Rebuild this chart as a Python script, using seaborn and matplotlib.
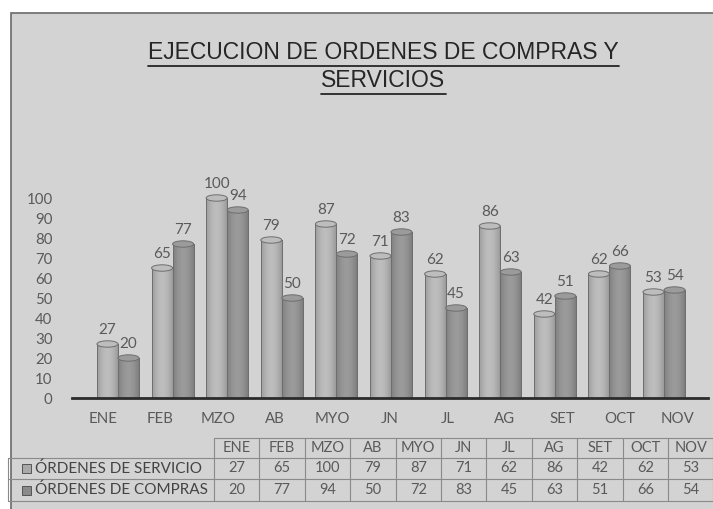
import numpy as np
import pandas as pd
import matplotlib
matplotlib.use("Agg")
import matplotlib.pyplot as plt
from matplotlib.patches import Rectangle, Ellipse
from matplotlib.lines import Line2D
import seaborn as sns

# ---- data -------------------------------------------------------------
months = ["ENE", "FEB", "MZO", "AB", "MYO", "JN", "JL", "AG", "SET", "OCT", "NOV"]
servicio = [27, 65, 100, 79, 87, 71, 62, 86, 42, 62, 53]
compras = [20, 77, 94, 50, 72, 83, 45, 63, 51, 66, 54]
series_names = ["ÓRDENES DE SERVICIO", "ÓRDENES DE COMPRAS"]
y_ticks = [0, 10, 20, 30, 40, 50, 60, 70, 80, 90, 100]
title_lines = ["EJECUCION DE ORDENES DE COMPRAS Y", "SERVICIOS"]

df = pd.DataFrame({
    "mes": months * 2,
    "valor": servicio + compras,
    "serie": [series_names[0]] * len(months) + [series_names[1]] * len(months),
})

# ---- style ------------------------------------------------------------
sns.set_theme(style="white")
plt.rcParams["font.family"] = ["Lato", "DejaVu Sans"]

W, H = 713, 509
BG = "#d3d3d3"
TXT = "#5a5a5a"
colors = ["#a9a9a9", "#8a8a8a"]

fig = plt.figure(figsize=(W / 100, H / 100), dpi=100)
fig.patch.set_facecolor("white")

def px(x, y):
    """pixel (from top-left) -> figure fraction"""
    return x / W, 1 - y / H

# framed panel
x0, y0 = px(11, 13)
fig.patches.append(Rectangle((x0, -0.1), 1.2, y0 + 0.1, transform=fig.transFigure,
                             facecolor=BG, edgecolor="#6a6a6a", lw=1.2, zorder=-5))

# ---- bar axes ---------------------------------------------------------
ax_l, ax_r = 72, 708
y_zero, y_top = 398, 178  # pixel rows for 0 and 110
ax = fig.add_axes([ax_l / W, 1 - y_zero / H, (ax_r - ax_l) / W, (y_zero - y_top) / H])
ax.set_facecolor("none")
ax.set_zorder(2)

sns.barplot(data=df, x="mes", y="valor", hue="serie", order=months,
            hue_order=series_names, palette=colors, width=0.77,
            saturation=1, edgecolor="#6e6e6e", linewidth=0.7,
            legend=False, ax=ax)

XLIM = (-0.842, 10.806)
YLIM = (0, 110)

# cylinder shading and rounded top on every bar
grad = np.linspace(0, 1, 64)
shade = np.sin(np.pi * (0.12 + 0.8 * grad))
cap_h = 1.6
for i, patch in enumerate(ax.patches[:2 * len(months)]):
    base = np.array(matplotlib.colors.to_rgb(colors[i // len(months)]))
    img = np.clip(base[None, :] * (0.8 + 0.32 * shade[:, None]), 0, 1)[None, :, :]
    bx, by = patch.get_x(), patch.get_y()
    bw, bh = patch.get_width(), patch.get_height()
    z = patch.get_zorder()
    im = ax.imshow(img, extent=[bx, bx + bw, by, by + bh], aspect="auto",
                   zorder=z + 0.1, interpolation="bilinear")
    im.set_clip_path(patch)
    ax.add_patch(Rectangle((bx, by), bw, bh, fill=False, edgecolor="#6e6e6e",
                           lw=0.7, zorder=z + 0.2))
    ax.add_patch(Ellipse((bx + bw / 2, by + bh), bw, cap_h * 2,
                         facecolor=np.clip(base * 1.12, 0, 1), edgecolor="#6e6e6e",
                         lw=0.7, zorder=z + 0.3))

ax.set_ylim(*YLIM)
ax.set_xlim(*XLIM)

# value labels
for cont in ax.containers:
    ax.bar_label(cont, labels=[str(int(round(v))) for v in cont.datavalues],
                 padding=5, color=TXT, fontsize=11, clip_on=False)

ax.set_yticks(y_ticks)
ax.set_yticklabels([str(t) for t in y_ticks])
ax.tick_params(axis="y", length=0, pad=14, labelsize=10.8, labelcolor=TXT)
ax.set_xticks([])
ax.set_xlabel("")
ax.set_ylabel("")
for s in ["top", "right", "left"]:
    ax.spines[s].set_visible(False)
ax.spines["bottom"].set_color("#2b2b2b")
ax.spines["bottom"].set_linewidth(2.0)

# category labels sit on their own (perspective-shifted) scale
ax2 = ax.twiny()
ax2.set_xlim(-0.540, 10.540)
ax2.set_xticks(range(len(months)))
ax2.set_xticklabels(months)
ax2.xaxis.set_ticks_position("bottom")
ax2.xaxis.set_label_position("bottom")
ax2.tick_params(axis="x", length=0, pad=10, labelsize=10.8, labelcolor=TXT)
for s in ax2.spines.values():
    s.set_visible(False)

# ---- title with underline ---------------------------------------------
t_objs = []
for line, yc in zip(title_lines, [52.5, 80.5]):
    tx, ty = px(383.5, yc)
    t_objs.append(fig.text(tx, ty, line, ha="center", va="center",
                           fontsize=16.5, color="#262626",
                           family="Liberation Sans"))

# ---- data table -------------------------------------------------------
col_left, col_w = 214, 45.4
row_edges = [438, 458, 479, 501]
grid_c = "#8a8a8a"
fs_tab = 10.5
for k in range(len(months) + 1):
    xk = col_left + k * col_w
    fig.add_artist(Line2D([xk / W] * 2, [1 - row_edges[0] / H, 1 - row_edges[3] / H],
                          transform=fig.transFigure, color=grid_c, lw=0.8))
for j, ye in enumerate(row_edges):
    xs = col_left if j == 0 else 8
    fig.add_artist(Line2D([xs / W, (col_left + len(months) * col_w) / W], [1 - ye / H] * 2,
                          transform=fig.transFigure, color=grid_c, lw=0.8))
fig.add_artist(Line2D([8 / W] * 2, [1 - row_edges[1] / H, 1 - row_edges[3] / H],
                      transform=fig.transFigure, color=grid_c, lw=0.8))

for k, m in enumerate(months):
    cx = col_left + (k + 0.5) * col_w
    fig.text(cx / W, 1 - (row_edges[0] + row_edges[1]) / 2 / H, m, ha="center",
             va="center", fontsize=fs_tab, color=TXT)
    for r, vals in enumerate([servicio, compras]):
        cy = (row_edges[r + 1] + row_edges[r + 2]) / 2
        fig.text(cx / W, 1 - cy / H, str(vals[k]), ha="center", va="center",
                 fontsize=fs_tab, color=TXT)

for r, name in enumerate(series_names):
    cy = (row_edges[r + 1] + row_edges[r + 2]) / 2
    fig.patches.append(Rectangle((22 / W, 1 - (cy + 4.5) / H), 9 / W, 9 / H,
                                 transform=fig.transFigure, facecolor=colors[r],
                                 edgecolor="#555555", lw=0.7))
    fig.text(35 / W, 1 - cy / H, name, ha="left", va="center",
             fontsize=11, color="#444444")

# underline title lines using rendered extents
fig.canvas.draw()
renderer = fig.canvas.get_renderer()
for t in t_objs:
    bb = t.get_window_extent(renderer).transformed(fig.transFigure.inverted())
    yb = bb.y0 - 1.5 / H
    fig.add_artist(Line2D([bb.x0, bb.x1], [yb, yb], transform=fig.transFigure,
                          color="#262626", lw=1.3))

fig.savefig("out.png", dpi=100, facecolor=fig.get_facecolor())
